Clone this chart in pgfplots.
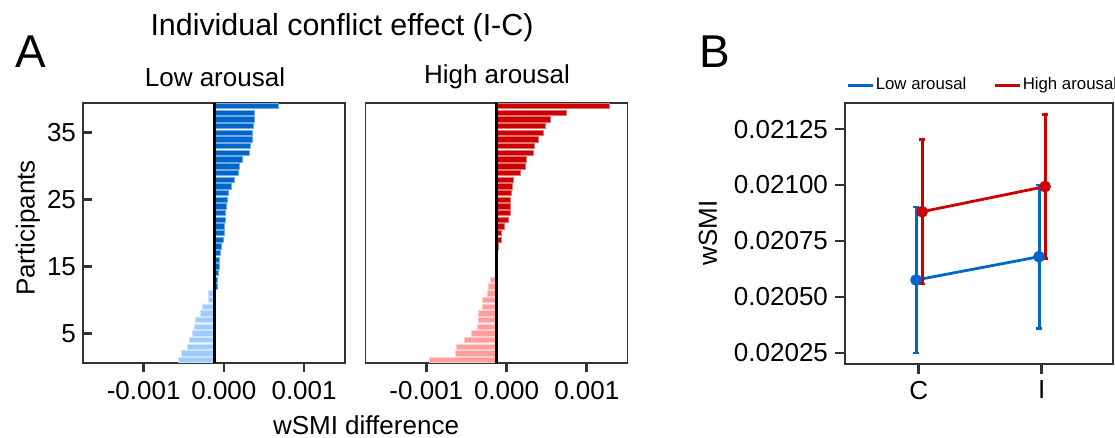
\documentclass[border=0pt]{standalone}
\usepackage{fontspec}
\setmainfont{Liberation Sans}
\usepackage{pgfplots}
\pgfplotsset{compat=1.18}

\definecolor{lowdark}{HTML}{0066CC}
\definecolor{lowlight}{HTML}{9CCBFF}
\definecolor{highdark}{HTML}{CC0000}
\definecolor{highlight}{HTML}{FF9C9C}
\definecolor{frame}{HTML}{333333}

% bar panels: x in units of 1e-3, measured from the black reference line
\pgfplotsset{
  barpanel/.style={
    scale only axis, width=131pt, height=130pt,
    xbar, bar width=0.8, bar shift=0pt,
    xmin=-1.635, xmax=1.631, ymin=0.55, ymax=39.45,
    xtick={-0.879,0.121,1.121}, xticklabels={-0.001,0.000,0.001},
    xtick pos=bottom, ytick pos=left,
    tick align=inside, major tick length=4.5pt,
    x tick style={yshift=-4.5pt},
    tick style={frame, line width=1.3pt},
    axis line style={frame, line width=0.7pt},
    tick label style={font=\fontsize{13}{15}\selectfont},
    xticklabel style={yshift=-5.5pt},
    /pgf/number format/assume math mode=true,
  },
}

\begin{document}
\begin{tikzpicture}
\useasboundingbox (0,0) rectangle (557.5pt,-219pt);

% ---- low arousal
\begin{axis}[barpanel, at={(41.5pt,-181.5pt)}, anchor=south west,
  ytick={5,15,25,35}]
\addplot[fill=lowdark, draw=lowdark!55!white, line width=0.3pt] coordinates {
  (0.796,39) (0.50,38) (0.50,37) (0.49,36) (0.47,35) (0.47,34) (0.446,33)
  (0.4375,32) (0.35,31) (0.3125,30) (0.296,29) (0.25,28) (0.217,27)
  (0.175,26) (0.158,25) (0.15,24) (0.142,23) (0.1375,22) (0.129,21)
  (0.121,20) (0.117,19) (0.0875,18) (0.079,17) (0.067,16) (0.0625,15)
  (0.054,14) (0.042,13) (0.042,12)
};
\addplot[fill=lowlight, draw=lowlight!50!white, line width=0.3pt] coordinates {
  (-0.071,11) (-0.075,10) (-0.142,9) (-0.179,8) (-0.233,7) (-0.242,6)
  (-0.267,5) (-0.304,4) (-0.333,3) (-0.404,2) (-0.442,1)
};
\draw[black, line width=1.4pt] (axis cs:0,0.55) -- (axis cs:0,39.45);
\end{axis}

% ---- high arousal
\begin{axis}[barpanel, at={(182.85pt,-181.5pt)}, anchor=south west,
  ytick=\empty]
\addplot[fill=highdark, draw=highdark!55!white, line width=0.3pt] coordinates {
  (1.40,39) (0.867,38) (0.667,37) (0.60,36) (0.579,35) (0.5125,34)
  (0.4625,33) (0.45,32) (0.3625,31) (0.354,30) (0.292,29) (0.20,28)
  (0.196,27) (0.179,26) (0.171,25) (0.167,24) (0.167,23) (0.146,22)
  (0.0875,21) (0.058,20) (0.05,19) (0.012,18) (0.004,17) (0.002,16)
};
\addplot[fill=highlight, draw=highlight!50!white, line width=0.3pt] coordinates {
  (-0.002,15) (-0.004,14) (-0.079,13) (-0.104,12) (-0.121,11) (-0.179,10)
  (-0.179,9) (-0.2375,8) (-0.2375,7) (-0.25,6) (-0.321,5) (-0.40,4)
  (-0.50,3) (-0.5125,2) (-0.842,1)
};
\draw[black, line width=1.4pt] (axis cs:0,0.55) -- (axis cs:0,39.45);
\end{axis}

% ---- panel B
\begin{axis}[scale only axis, at={(422.5pt,-182pt)}, anchor=south west,
  width=134pt, height=130.35pt,
  xmin=0.4, xmax=2.58, ymin=0.020201, ymax=0.021365,
  xtick={1,2}, xticklabels={C,I},
  ytick={0.02025,0.0205,0.02075,0.021,0.02125},
  yticklabels={0.02025,0.02050,0.02075,0.02100,0.02125},
  scaled y ticks=false,
  xtick pos=bottom, ytick pos=left,
  tick align=outside, major tick length=5pt,
  tick style={frame, line width=1.3pt},
  axis line style={frame, line width=0.9pt},
  tick label style={font=\fontsize{13}{15}\selectfont},
  /pgf/number format/assume math mode=true,
  legend columns=2, legend cell align=left,
  legend image code/.code={\draw[#1, line width=1.2pt] (0pt,0pt) -- (12.5pt,0pt);},
  legend style={draw=none, fill=none, at={(0,1)}, anchor=south west,
    inner sep=0pt, yshift=4pt, xshift=0.5pt,
    font=\fontsize{8.4}{10}\selectfont, nodes={inner sep=1pt},
    /tikz/every even column/.append style={column sep=12.5pt}},
]
\addplot[lowdark, line width=1.4pt, mark=*, mark size=2.2pt,
  error bars/.cd, y dir=both, y explicit,
  error bar style={line width=1.5pt, solid},
  error mark options={mark size=1.5pt, line width=1.3pt, rotate=90}]
  coordinates {(0.978,0.020576) +- (0,0.000326) (1.978,0.02068) +- (0,0.00032)};
\addlegendentry{Low arousal}
\addplot[highdark, line width=1.4pt, mark=*, mark size=2.2pt,
  error bars/.cd, y dir=both, y explicit,
  error bar style={line width=1.5pt, solid},
  error mark options={mark size=1.5pt, line width=1.3pt, rotate=90}]
  coordinates {(1.027,0.020881) +- (0,0.000323) (2.027,0.020993) +- (0,0.000322)};
\addlegendentry{High arousal}
\end{axis}

% ---- texts
\node[font=\fontsize{15.2}{18}\selectfont] at (171pt,-14pt) {Individual conflict effect (I-C)};
\node[font=\fontsize{13}{15}\selectfont] at (107.5pt,-38.5pt) {Low arousal};
\node[font=\fontsize{13}{15}\selectfont] at (248.5pt,-38.5pt) {High arousal};
\node[font=\fontsize{13}{15}\selectfont, inner sep=0pt] at (183pt,-212.5pt) {wSMI difference};
\node[font=\fontsize{13}{15}\selectfont, rotate=90] at (14pt,-114pt) {Participants};
\node[font=\fontsize{13}{15}\selectfont, rotate=90] at (354pt,-116.5pt) {wSMI};
\node[font=\fontsize{23}{26}\selectfont] at (15.5pt,-26pt) {A};
\node[font=\fontsize{23}{26}\selectfont] at (357.5pt,-26pt) {B};
\end{tikzpicture}
\end{document}
